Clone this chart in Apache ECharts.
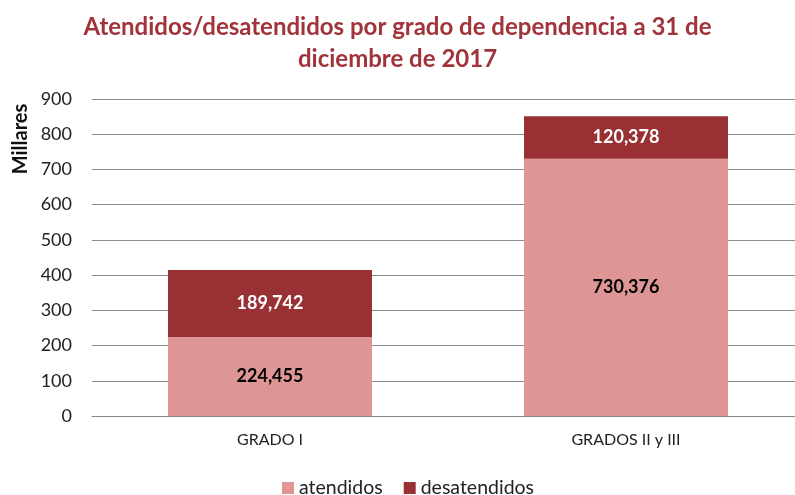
<!DOCTYPE html>
<html>
<head>
<meta charset="utf-8">
<script src="https://cdn.jsdelivr.net/npm/echarts@6/dist/echarts.min.js"></script>
<style>
  html, body { margin: 0; padding: 0; background: #fff; }
  #chart { width: 795px; height: 495px; }
</style>
</head>
<body>
<div id="chart"></div>
<script>
// values in thousands (Millares)
const categories = ['GRADO I', 'GRADOS II y III'];
const atendidos = [224.455, 730.376];
const desatendidos = [189.742, 120.378];
const yTicks = [0, 100, 200, 300, 400, 500, 600, 700, 800, 900];

const font = 'Lato, "Open Sans", sans-serif';

function fmt(p) {
    return p.value.toFixed(3).replace('.', ',');
}

const myChart = echarts.init(document.getElementById('chart'));
const option = {
    animation: false,
    textStyle: { fontFamily: font },
    title: {
        text: 'Atendidos/desatendidos por grado de dependencia a 31 de\ndiciembre de 2017',
        left: 'center',
        top: 6,
        textStyle: {
            color: '#A0343A',
            fontSize: 24,
            fontWeight: 'bold',
            fontFamily: font,
            lineHeight: 32
        }
    },
    legend: {
        bottom: -8,
        left: 277,
        itemWidth: 12,
        itemHeight: 12,
        itemGap: 21,
        icon: 'rect',
        textStyle: { color: '#222', fontSize: 19.5, fontFamily: font }
    },
    grid: { left: 92, right: -9, top: 99, bottom: 79, outerBoundsMode: 'none' },
    xAxis: {
        type: 'category',
        data: categories,
        axisTick: { show: false },
        axisLine: { lineStyle: { color: '#888' } },
        axisLabel: { color: '#222', fontSize: 16, margin: 16, fontFamily: font }
    },
    yAxis: {
        type: 'value',
        min: yTicks[0],
        max: yTicks[yTicks.length - 1],
        interval: 100,
        axisLine: { show: false },
        axisTick: { show: false },
        axisLabel: { color: '#222', fontSize: 18, margin: 20, fontFamily: font },
        splitLine: { lineStyle: { color: '#8c8c8c', width: 1 } }
    },
    graphic: [{
        type: 'text',
        x: 21,
        y: 139,
        rotation: Math.PI / 2,
        style: {
            text: 'Millares',
            fill: '#111',
            font: 'bold 20px ' + font,
            align: 'center',
            verticalAlign: 'middle'
        }
    }],
    series: [{
        name: 'atendidos',
        type: 'bar',
        stack: 'total',
        data: atendidos,
        barWidth: '57.3%',
        itemStyle: { color: '#DD9695' },
        label: {
            show: true,
            position: 'inside',
            color: '#000',
            fontSize: 18,
            fontWeight: 'bold',
            fontFamily: font,
            formatter: fmt
        }
    }, {
        name: 'desatendidos',
        type: 'bar',
        stack: 'total',
        data: desatendidos,
        itemStyle: { color: '#993033' },
        label: {
            show: true,
            position: 'inside',
            color: '#fff',
            fontSize: 18,
            fontWeight: 'bold',
            fontFamily: font,
            formatter: fmt
        }
    }]
};
myChart.setOption(option);
</script>
</body>
</html>
